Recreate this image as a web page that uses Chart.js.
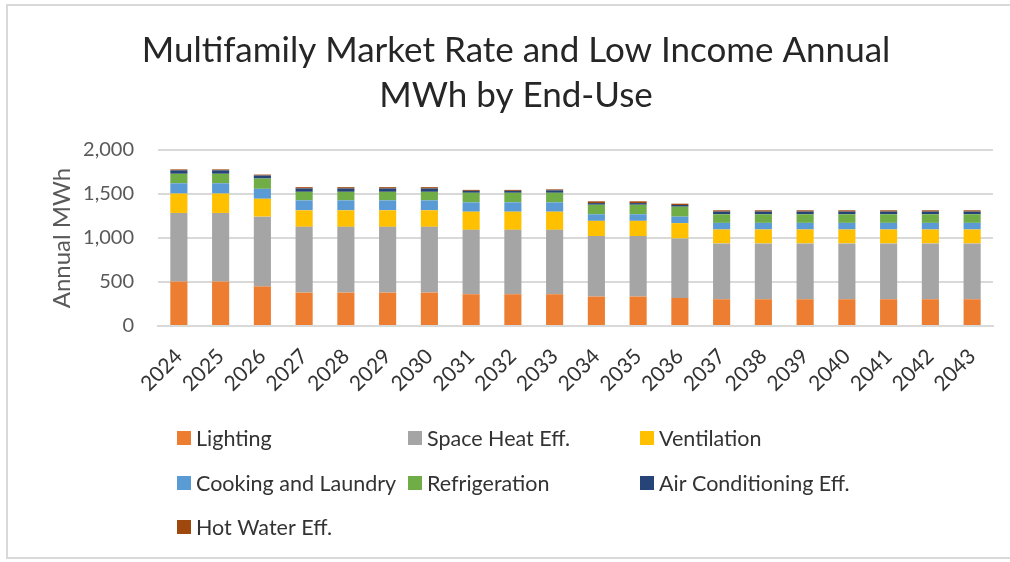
<!DOCTYPE html>
<html>
<head>
<meta charset="utf-8">
<script src="https://cdn.jsdelivr.net/npm/chart.js@4/dist/chart.umd.min.js"></script>
<style>
html,body{margin:0;padding:0;background:#fff;}
#wrap{position:relative;width:1010px;height:562px;}
#frame{position:absolute;left:6px;top:4px;width:1010px;height:555px;border:2px solid #d9d9d9;pointer-events:none;box-sizing:border-box;}
canvas{position:absolute;left:0;top:0;}
</style>
</head>
<body>
<div id="wrap">
<canvas id="c" width="1010" height="562"></canvas>
<div id="frame"></div>
</div>
<script>
const years = ['2024','2025','2026','2027','2028','2029','2030','2031','2032','2033','2034','2035','2036','2037','2038','2039','2040','2041','2042','2043'];
const lighting      = [505,505,450,380,380,380,380,361,361,361,335,335,319,304,304,304,304,304,304,304];
const spaceHeat     = [780,780,793,747,747,747,747,732,732,732,687,687,676,635,635,635,635,635,635,635];
const ventilation   = [220,220,203,188,188,188,188,206,206,206,173,173,174,158,158,158,158,158,158,158];
const cooking       = [117,117,113,113,113,113,113,106,106,106,75,75,74,75,75,75,75,75,75,75];
const refrigeration = [108,108,117,97,97,97,97,109,109,109,108,108,113,98,98,98,98,98,98,98];
const airCond       = [39,39,34,38,38,38,38,22,22,28,19,19,19,30,30,30,30,30,30,30];
const hotWater      = [11,11,11,15,15,15,15,11,11,11,20,20,15,15,15,15,15,15,15,15];
const yTicks = [0,500,1000,1500,2000];

const FONT = 'Lato, "Liberation Sans", sans-serif';

const legendPlugin = {
  id: 'gridLegend',
  afterDraw(chart) {
    const ctx = chart.ctx;
    const cols = [177, 408, 640];
    const rows = [438, 483, 527];
    ctx.save();
    ctx.font = '21.5px ' + FONT;
    ctx.textBaseline = 'middle';
    ctx.textAlign = 'left';
    chart.data.datasets.forEach((ds, i) => {
      const x = cols[i % 3], y = rows[Math.floor(i / 3)];
      ctx.fillStyle = ds.backgroundColor;
      ctx.fillRect(x, y - 7, 14, 14);
      ctx.fillStyle = '#333';
      ctx.fillText(ds.label, x + 19, y + 1);
    });
    ctx.restore();
  }
};

const mk = (label, data, color) => ({label, data, backgroundColor: color, borderWidth: 0, barPercentage: 0.41, categoryPercentage: 1.0});

new Chart(document.getElementById('c'), {
  type: 'bar',
  data: {
    labels: years,
    datasets: [
      mk('Lighting', lighting, '#ED7D31'),
      mk('Space Heat Eff.', spaceHeat, '#A5A5A5'),
      mk('Ventilation', ventilation, '#FFC000'),
      mk('Cooking and Laundry', cooking, '#5B9BD5'),
      mk('Refrigeration', refrigeration, '#70AD47'),
      mk('Air Conditioning Eff.', airCond, '#264478'),
      mk('Hot Water Eff.', hotWater, '#9E480E')
    ]
  },
  options: {
    responsive: false,
    animation: false,
    devicePixelRatio: 1,
    layout: {padding: {left: 39, right: 17, top: 0, bottom: 156}},
    plugins: {
      legend: {display: false},
      tooltip: {enabled: false},
      title: {
        display: true,
        text: ['Multifamily Market Rate and Low Income Annual', 'MWh by End-Use'],
        font: {family: FONT, size: 35, weight: 'normal', lineHeight: 1.286},
        color: '#262626',
        padding: {top: 28, bottom: 32}
      }
    },
    scales: {
      x: {
        stacked: true,
        grid: {display: false, drawTicks: false},
        border: {display: true, color: '#d9d9d9', width: 2},
        ticks: {
          font: {family: FONT, size: 21},
          color: '#333',
          maxRotation: 45, minRotation: 45,
          padding: 18,
          autoSkip: false
        },
        afterFit(s) { s.height = 80; }
      },
      y: {
        stacked: true,
        min: 0, max: 2000,
        afterBuildTicks(s) { s.ticks = yTicks.map(v => ({value: v})); },
        grid: {color: '#d9d9d9', lineWidth: 2, drawTicks: false},
        border: {display: false},
        ticks: {
          font: {family: FONT, size: 20},
          color: '#595959',
          padding: 24,
          callback: v => v.toLocaleString('en-US')
        },
        title: {
          display: true,
          text: 'Annual MWh',
          font: {family: FONT, size: 24},
          color: '#595959',
          padding: {top: 9, bottom: 0}
        },
        afterFit(s) { s.width = 119; }
      }
    }
  },
  plugins: [legendPlugin]
});
</script>
</body>
</html>
